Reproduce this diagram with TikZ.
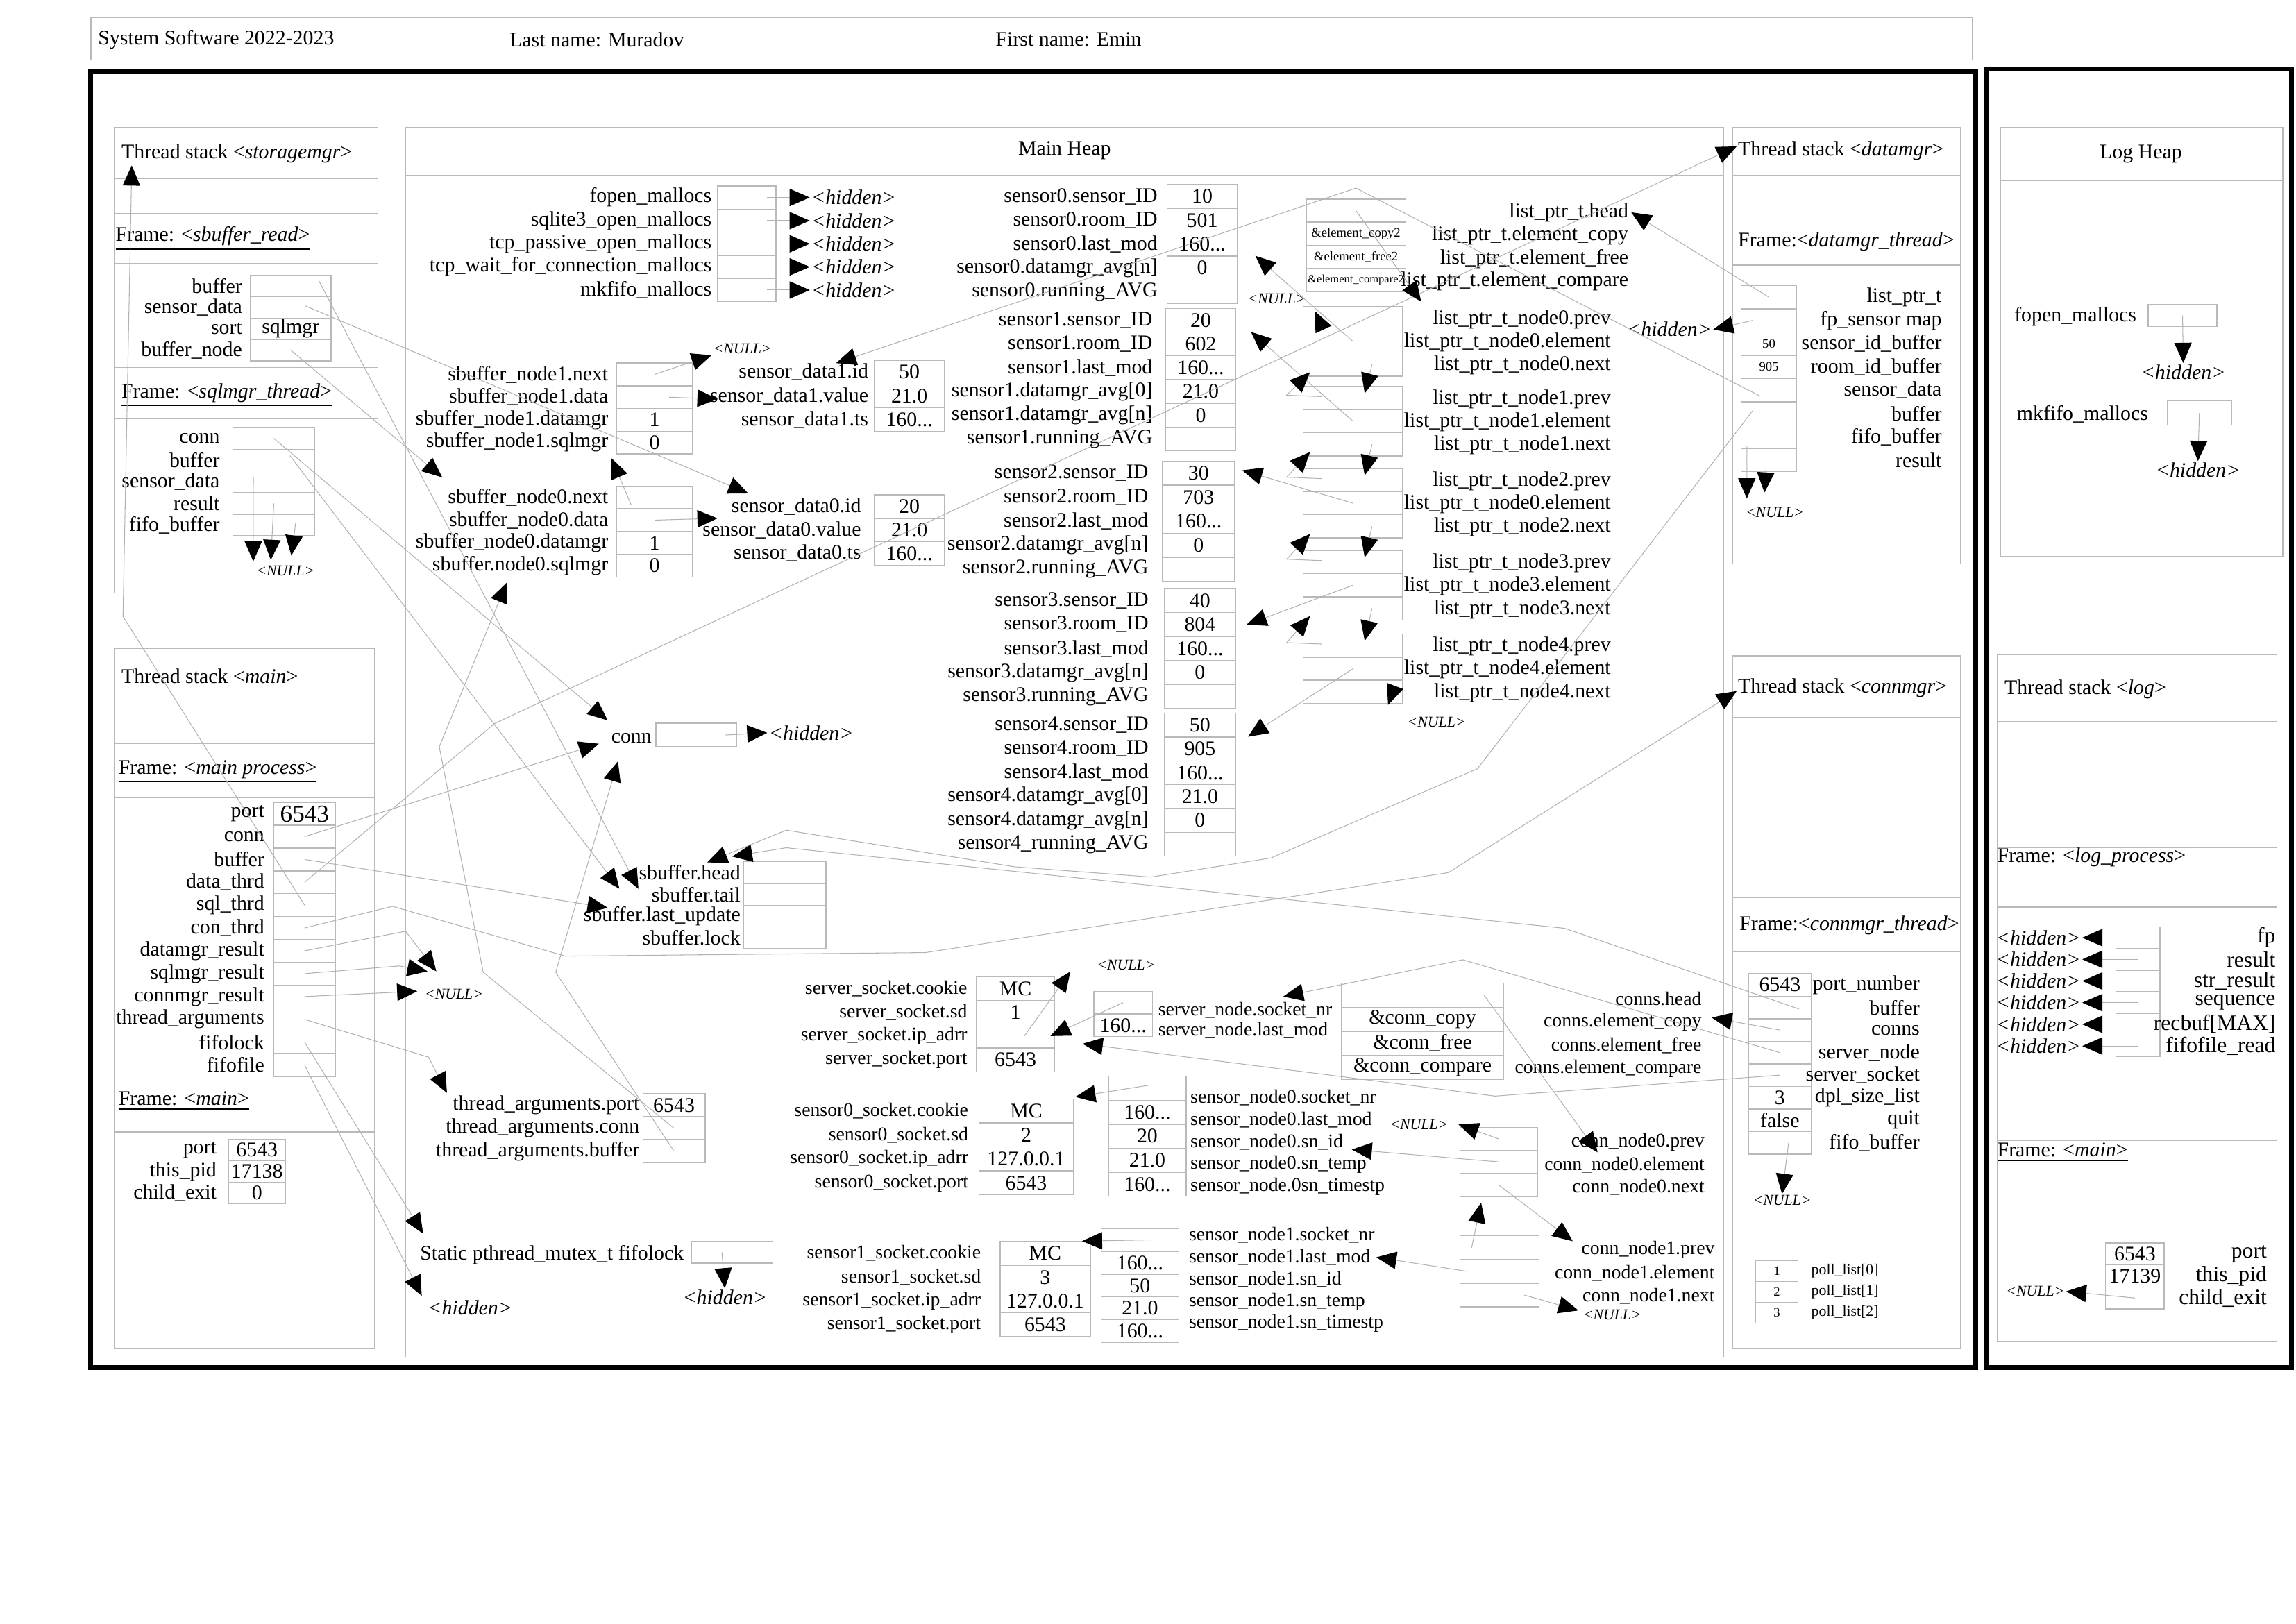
\documentclass[tikz,border=0pt]{standalone}
\usepackage{fontspec}
\setmainfont{Liberation Serif}
\usetikzlibrary{positioning, calc, arrows.meta}

\newcommand{\ovu}{0.0211cm}
\newcommand{\tdots}{...}
\newcommand{\fmain}{\fontsize{8.5}{9}\selectfont}
\newcommand{\fsock}{\fontsize{7.9}{8.5}\selectfont}
\newcommand{\fsmall}{\fontsize{6.2}{7}\selectfont}
\newcommand{\ftiny}{\fontsize{5.3}{6}\selectfont}
\newcommand{\fmicro}{\fontsize{4.7}{5}\selectfont}
\newcommand{\fbig}{\fontsize{10}{11}\selectfont}
\newcommand{\flog}{\fontsize{9}{10}\selectfont}

\begin{document}
\begin{tikzpicture}[
    x=0.0211cm, y=-0.0211cm,
    box/.style={draw=gray!55, line width=0.4pt},
    heavy/.style={draw=black, line width=2pt},
    cell/.style 2 args={draw=gray!55, line width=0.4pt, minimum width=#1*\ovu, minimum height=#2*\ovu, inner sep=0pt, font=\fmain},
    field/.style={font=\fmain, inner sep=1pt},
    hdr/.style={font=\fmain, inner sep=1pt, anchor=west},
    nul/.style={font=\fsmall\itshape, inner sep=0.5pt},
    hid/.style={font=\fmain\itshape, inner sep=0.5pt},
    ptr/.style={draw=gray!60, line width=0.3pt, -{Triangle[length=0.29cm, width=0.25cm, color=black]}}
]
    \useasboundingbox (0,0) rectangle (1568,1109);

    % Header
    \draw[box] (62,12) rectangle (1347,41);
    \node[hdr] (course) at (65,27) {System Software 2022-2023};
    \node[hdr] (lastname) at (346,27) {Last name: Muradov};
    \node[hdr] (firstname) at (678,27) {First name: Emin};

    % Process borders
    \draw[heavy] (62,49) rectangle (1349,934);
    \draw[heavy] (1357,47) rectangle (1565,934);

    % Thread stack storagemgr
    \draw[box] (78,87) rectangle (258,405);
    \foreach \yy in {122,146,180,251,286} \draw[box] (78,\yy) -- (258,\yy);
    \node[hdr] (sm-title) at (81,105) {Thread stack <\textit{storagemgr}>};
    \node[hdr] (sm-frame) at (77,163) {\underline{Frame: <\textit{sbuffer\_read}>}};
    \foreach \lbl/\val [count=\i] in {buffer/{}, sensor\_data/{}, sort/sqlmgr, buffer\_node/{}} {
        \node[cell={55}{14.6}] (sm-\i) at (198.5, {188+(\i-0.5)*14.6}) {\val};
        \node[field, anchor=east] (sm-l\i) at ([xshift=-2pt]sm-\i.west) {\lbl};
    }
    \node[hdr] (sq-frame) at (81,270) {\underline{Frame: <\textit{sqlmgr\_thread}>}};
    \foreach \lbl [count=\i] in {conn, buffer, sensor\_data, result, fifo\_buffer} {
        \node[cell={56}{14.8}] (sq-\i) at (187, {292+(\i-0.5)*14.8}) {};
        \node[field, anchor=east] (sq-l\i) at ([xshift=-4pt]sq-\i.west) {\lbl};
    }
    \node[nul] (sq-null) at (195,390) {<NULL>};

    % Thread stack main
    \draw[box] (78,443) rectangle (256,921);
    \foreach \yy in {481,508,545,743,773} \draw[box] (78,\yy) -- (256,\yy);
    \node[hdr] (mn-title) at (81,462) {Thread stack <\textit{main}>};
    \node[hdr] (mp-frame) at (79,527) {\underline{Frame: <\textit{main process}>}};
    \foreach \lbl/\val [count=\i] in {port/{\fbig 6543}, conn/{}, buffer/{}, data\_thrd/{}, sql\_thrd/{}, con\_thrd/{}, datamgr\_result/{}, sqlmgr\_result/{}, connmgr\_result/{}, thread\_arguments/{}, fifolock/{}, fifofile/{}} {
        \node[cell={42}{15.6}] (mp-\i) at (208, {548+(\i-0.5)*15.6}) {\val};
        \node[field, anchor=east] (mp-l\i) at ([xshift=-2.5pt]mp-\i.west) {\lbl};
    }
    \node[hdr] (mf-frame) at (79,752) {\underline{Frame: <\textit{main}>}};
    \foreach \lbl/\val [count=\i] in {port/6543, this\_pid/17138, child\_exit/0} {
        \node[cell={39}{14.7}] (mf-\i) at (175.5, {778+(\i-0.5)*14.7}) {\val};
        \node[field, anchor=east] (mf-l\i) at ([xshift=-3.5pt]mf-\i.west) {\lbl};
    }

    % Main heap
    \draw[box] (277,87) rectangle (1177,927);
    \draw[box] (277,120) -- (1177,120);
    \node[field] (heap-title) at (727,103) {Main Heap};

    % Mallocs
    \foreach \lbl [count=\i] in {fopen\_mallocs, sqlite3\_open\_mallocs, tcp\_passive\_open\_mallocs, tcp\_wait\_for\_connection\_mallocs, mkfifo\_mallocs} {
        \node[cell={40}{15.8}] (ml-\i) at (510, {127+(\i-0.5)*15.8}) {};
        \node[field, anchor=east] (ml-l\i) at ([xshift=-1pt]ml-\i.west) {\lbl};
        \node[hid, anchor=west] (ml-h\i) at (553, {127+(\i-0.5)*15.8}) {<hidden>};
        \draw[ptr] ($(ml-\i)+(14,0)$) -- (ml-h\i.west);
    }

    % Sbuffer nodes and sensor data
    \foreach \lbl/\val [count=\i] in {sbuffer\_node1.next/{}, sbuffer\_node1.data/{}, sbuffer\_node1.datamgr/1, sbuffer\_node1.sqlmgr/0} {
        \node[cell={52}{15.5}] (sb1-\i) at (447, {248+(\i-0.5)*15.5}) {\val};
        \node[field, anchor=east] (sb1-l\i) at ([xshift=-2pt]sb1-\i.west) {\lbl};
    }
    \node[nul] (sb1-null) at (507,238) {<NULL>};
    \foreach \lbl/\val [count=\i] in {sensor\_data1.id/50, sensor\_data1.value/21.0, sensor\_data1.ts/160\tdots} {
        \node[cell={48}{16.3}] (sd1-\i) at (621, {246+(\i-0.5)*16.3}) {\val};
        \node[field, anchor=east] (sd1-l\i) at ([xshift=-1pt]sd1-\i.west) {\lbl};
    }
    \foreach \lbl/\val [count=\i] in {sbuffer\_node0.next/{}, sbuffer\_node0.data/{}, sbuffer\_node0.datamgr/1, sbuffer.node0.sqlmgr/0} {
        \node[cell={52}{15.5}] (sb0-\i) at (447, {332+(\i-0.5)*15.5}) {\val};
        \node[field, anchor=east] (sb0-l\i) at ([xshift=-2pt]sb0-\i.west) {\lbl};
    }
    \foreach \lbl/\val [count=\i] in {sensor\_data0.id/20, sensor\_data0.value/21.0, sensor\_data0.ts/160\tdots} {
        \node[cell={48}{16}] (sd0-\i) at (621, {338+(\i-0.5)*16}) {\val};
        \node[field, anchor=east] (sd0-l\i) at ([xshift=-4pt]sd0-\i.west) {\lbl};
    }

    % Sensors
    \foreach \lbl/\val [count=\i] in {sensor\_ID/10, room\_ID/501, last\_mod/160\tdots, datamgr\_avg[n]/0, running\_AVG/{}} {
        \node[cell={48}{16.3}] (s0-\i) at (821, {126+(\i-0.5)*16.3}) {\val};
        \node[field, anchor=east] (s0-l\i) at ([xshift=-2.5pt]s0-\i.west) {sensor0.\lbl};
    }
    \foreach \lbl/\val [count=\i] in {sensor\_ID/20, room\_ID/602, last\_mod/160\tdots, datamgr\_avg[0]/21.0, datamgr\_avg[n]/0, running\_AVG/{}} {
        \node[cell={48}{16.23}] (s1-\i) at (820, {210.6+(\i-0.5)*16.23}) {\val};
        \node[field, anchor=east] (s1-l\i) at ([xshift=-4pt]s1-\i.west) {sensor1.\lbl};
    }
    \foreach \lbl/\val [count=\i] in {sensor\_ID/30, room\_ID/703, last\_mod/160\tdots, datamgr\_avg[n]/0, running\_AVG/{}} {
        \node[cell={49}{16.4}] (s2-\i) at (818.5, {315+(\i-0.5)*16.4}) {\val};
        \node[field, anchor=east] (s2-l\i) at ([xshift=-4.5pt]s2-\i.west) {sensor2.\lbl};
    }
    \foreach \lbl/\val [count=\i] in {sensor\_ID/40, room\_ID/804, last\_mod/160\tdots, datamgr\_avg[n]/0, running\_AVG/{}} {
        \node[cell={49}{16.4}] (s3-\i) at (819.5, {402+(\i-0.5)*16.4}) {\val};
        \node[field, anchor=east] (s3-l\i) at ([xshift=-5pt]s3-\i.west) {sensor3.\lbl};
    }
    \foreach \lbl/\val [count=\i] in {sensor4.sensor\_ID/50, sensor4.room\_ID/905, sensor4.last\_mod/160\tdots, sensor4.datamgr\_avg[0]/21.0, sensor4.datamgr\_avg[n]/0, sensor4\_running\_AVG/{}} {
        \node[cell={49}{16.3}] (s4-\i) at (819.5, {487+(\i-0.5)*16.3}) {\val};
        \node[field, anchor=east] (s4-l\i) at ([xshift=-5pt]s4-\i.west) {\lbl};
    }

    % Sensor list
    \foreach \val [count=\i] in {{}, {\ftiny\&element\_copy2}, {\ftiny\&element\_free2}, {\fmicro\&element\_compare2}} {
        \node[cell={68}{15.75}] (lt-\i) at (926, {136+(\i-0.5)*15.75}) {\val};
    }
    \foreach \lbl/\yy [count=\i] in {head/145, element\_copy/161, element\_free/177, element\_compare/192} {
        \node[field, anchor=east] (lt-l\i) at (1114,\yy) {list\_ptr\_t.\lbl};
    }
    \foreach \n/\tp/\m in {0/209.5/0, 1/264/1, 2/320/0, 3/376/3, 4/433/4} {
        \node[cell={68}{15.8}] (ln\n-1) at (924, {\tp+7.9}) {};
        \node[cell={68}{15.8}] (ln\n-2) at (924, {\tp+23.7}) {};
        \node[cell={68}{15.8}] (ln\n-3) at (924, {\tp+39.5}) {};
        \node[field, anchor=east] (ln\n-l1) at (1102, {\tp+8.5}) {list\_ptr\_t\_node\n.prev};
        \node[field, anchor=east] (ln\n-l2) at (1102, {\tp+24.3}) {list\_ptr\_t\_node\m.element};
        \node[field, anchor=east] (ln\n-l3) at (1102, {\tp+40.1}) {list\_ptr\_t\_node\n.next};
    }
    \node[nul] (ln-null0) at (872,204) {<NULL>};
    \node[nul] (ln-null4) at (981,493) {<NULL>};
    \node[hid] (dm-hid) at (1140,225) {<hidden>};

    % Thread stack datamgr
    \draw[box] (1183,87) rectangle (1339,385);
    \foreach \yy in {120,148,181} \draw[box] (1183,\yy) -- (1339,\yy);
    \node[hdr] (dm-title) at (1185,103) {Thread stack <\textit{datamgr}>};
    \node[hdr] (dm-frame) at (1185,165) {Frame:<\textit{datamgr\_thread}>};
    \foreach \lbl/\val [count=\i] in {list\_ptr\_t/{}, fp\_sensor map/{}, sensor\_id\_buffer/{\ftiny 50}, room\_id\_buffer/{\ftiny 905}, sensor\_data/{}, buffer/{}, fifo\_buffer/{}, result/{}} {
        \node[cell={38}{15.9}] (dm-\i) at (1208, {195+(\i-0.5)*15.9}) {\val};
        \node[field, anchor=east] (dm-l\i) at (1328, {195+(\i-0.5)*15.9}) {\lbl};
    }
    \node[nul] (dm-null) at (1212,350) {<NULL>};

    % Thread stack connmgr
    \draw[box] (1183,448) rectangle (1339,921);
    \foreach \yy in {490,613,650} \draw[box] (1183,\yy) -- (1339,\yy);
    \node[hdr] (cm-title) at (1185,470) {Thread stack <\textit{connmgr}>};
    \node[hdr] (cm-frame) at (1186,632) {Frame:<\textit{connmgr\_thread}>};
    \foreach \lbl/\val [count=\i] in {port\_number/6543, buffer/{}, conns/{}, server\_node/{}, server\_socket/{}, dpl\_size\_list/3, quit/false, fifo\_buffer/{}} {
        \node[cell={43}{15.4}] (cm-\i) at (1215.5, {665+(\i-0.5)*15.4}) {\val};
        \node[field, anchor=east] (cm-l\i) at (1313, {665+(\i-0.5)*15.4}) {\lbl};
    }
    \node[nul] (cm-null) at (1217,820) {<NULL>};
    \foreach \pidx [count=\i] in {0,1,2} {
        \node[cell={29}{14.2}, font=\ftiny] (pl-\i) at (1213.5, {861+(\i-0.5)*14.2}) {\i};
        \node[field, anchor=west, font=\fsmall] (pl-l\i) at (1235, {861+(\i-0.5)*14.2}) {poll\_list[\pidx]};
    }

    % Log heap
    \draw[box] (1366,87) rectangle (1559,380);
    \draw[box] (1366,123.5) -- (1559,123.5);
    \node[field] (lh-title) at (1462,105) {Log Heap};
    \node[field, anchor=east] (lh-l1) at (1461,216) {fopen\_mallocs};
    \node[cell={47}{15}] (lh-1) at (1490.5,215.5) {};
    \node[hid] (lh-h1) at (1491,254) {<hidden>};
    \node[field, anchor=east] (lh-l2) at (1469,283) {mkfifo\_mallocs};
    \node[cell={44}{16.5}] (lh-2) at (1502,282) {};
    \node[hid] (lh-h2) at (1501,321) {<hidden>};
    \draw[ptr] (lh-1.center) -- (lh-h1.north);
    \draw[ptr] (lh-2.center) -- (lh-h2.north);

    % Thread stack log
    \draw[box] (1364,447) rectangle (1555,916);
    \foreach \yy in {493,579,619.5,779,815.6} \draw[box] (1364,\yy) -- (1555,\yy);
    \node[hdr] (lg-title) at (1367,471) {Thread stack <\textit{log}>};
    \node[hdr] (lg-frame) at (1362,587) {\underline{Frame: <\textit{log\_process}>}};
    \foreach \lbl [count=\i] in {fp, result, str\_result, sequence, recbuf[MAX], fifofile\_read} {
        \node[cell={30}{14.8}] (lg-\i) at (1460, {633+(\i-0.5)*14.8}) {};
        \node[field, anchor=east, font=\flog] (lg-l\i) at (1556, {633+(\i-0.5)*14.8}) {\lbl};
        \node[hid, anchor=east] (lg-h\i) at (1422, {633+(\i-0.5)*14.8}) {<hidden>};
        \draw[ptr] (lg-\i.center) -- (lg-h\i.east);
    }
    \node[hdr] (lgm-frame) at (1362,787) {\underline{Frame: <\textit{main}>}};
    \foreach \lbl/\val [count=\i] in {port/6543, this\_pid/17139, child\_exit/{}} {
        \node[cell={40}{15}] (lgm-\i) at (1458, {849+(\i-0.5)*15}) {\val};
        \node[field, anchor=east, font=\flog] (lgm-l\i) at (1550, {849+(\i-0.5)*15}) {\lbl};
    }
    \node[nul, anchor=east] (lgm-null) at (1411,882) {<NULL>};
    \draw[ptr] (lgm-3.center) -- (lgm-null.east);

    % Connection, sbuffer, thread arguments, fifo lock
    \node[cell={55}{16}] (cn-1) at (475.5,502) {};
    \node[field, anchor=east] (cn-l1) at (447,504) {conn};
    \node[hid, anchor=west] (cn-h) at (524,500.5) {<hidden>};
    \draw[ptr] ($(cn-1)+(20,0)$) -- (cn-h.west);
    \foreach \lbl [count=\i] in {head, tail, last\_update, lock} {
        \node[cell={56}{14.85}] (sb-\i) at (536, {588.6+(\i-0.5)*14.85}) {};
        \node[field, anchor=east] (sb-l\i) at (sb-\i.west) {sbuffer.\lbl};
    }
    \foreach \lbl/\val [count=\i] in {port/6543, conn/{}, buffer/{}} {
        \node[cell={42.5}{15.7}] (ta-\i) at (460.3, {747+(\i-0.5)*15.7}) {\val};
        \node[field, anchor=east] (ta-l\i) at (ta-\i.west) {thread\_arguments.\lbl};
    }
    \node[field, anchor=east] (fl-l) at (469,857) {Static pthread\_mutex\_t fifolock};
    \node[cell={55.5}{14.6}] (fl-1) at (500,855.3) {};
    \node[hid] (fl-h) at (495,886) {<hidden>};
    \draw[ptr] ($(fl-1)+(-7,0)$) -- (fl-h.north);
    \node[hid] (ff-h) at (321,893) {<hidden>};
    \node[nul] (mn-null) at (310,679) {<NULL>};

    % Sockets
    \foreach \lbl/\val [count=\i] in {cookie/MC, sd/1, ip\_adrr/{}, port/6543} {
        \node[cell={53}{16.25}] (ss-\i) at (693.5, {667+(\i-0.5)*16.25}) {\val};
        \node[field, anchor=east, font=\fsock] (ss-l\i) at ([xshift=-2.5pt]ss-\i.west) {server\_socket.\lbl};
    }
    \foreach \lbl/\val [count=\i] in {socket\_nr/{}, last\_mod/160\tdots} {
        \node[cell={40}{15.5}] (sv-\i) at (767, {677+(\i-0.5)*15.5}) {\val};
        \node[field, anchor=west, font=\fsock] (sv-l\i) at (789, {676.5+\i*13.5}) {server\_node.\lbl};
    }
    \node[nul] (sv-null) at (769,659) {<NULL>};
    \foreach \lbl/\val [count=\i] in {cookie/MC, sd/2, ip\_adrr/127.0.0.1, port/6543} {
        \node[cell={64.5}{16.4}] (k0-\i) at (700.8, {750.5+(\i-0.5)*16.4}) {\val};
        \node[field, anchor=east, font=\fsock] (k0-l\i) at ([xshift=-3pt]k0-\i.west) {sensor0\_socket.\lbl};
    }
    \foreach \lbl/\val [count=\i] in {sensor\_node0.socket\_nr/{}, sensor\_node0.last\_mod/160\tdots, sensor\_node0.sn\_id/20, sensor\_node0.sn\_temp/21.0, sensor\_node.0sn\_timestp/160\tdots} {
        \node[cell={53}{16.4}] (n0-\i) at (783.5, {735+(\i-0.5)*16.4}) {\val};
        \node[field, anchor=west, font=\fsock] (n0-l\i) at (811, {734.8+\i*15.1}) {\lbl};
    }
    \foreach \lbl/\val [count=\i] in {cookie/MC, sd/3, ip\_adrr/127.0.0.1, port/6543} {
        \node[cell={61.6}{16.2}] (k1-\i) at (713.8, {848+(\i-0.5)*16.2}) {\val};
        \node[field, anchor=east, font=\fsock] (k1-l\i) at ([xshift=-6.5pt]k1-\i.west) {sensor1\_socket.\lbl};
    }
    \foreach \lbl/\val [count=\i] in {socket\_nr/{}, last\_mod/160\tdots, sn\_id/50, sn\_temp/21.0, sn\_timestp/160\tdots} {
        \node[cell={53}{15.6}] (n1-\i) at (778.5, {839+(\i-0.5)*15.6}) {\val};
        \node[field, anchor=west, font=\fsock] (n1-l\i) at (810, {828.5+\i*15.1}) {sensor\_node1.\lbl};
    }

    % Connection list
    \foreach \val [count=\i] in {{}, \&conn\_copy, \&conn\_free, \&conn\_compare} {
        \node[cell={111}{16.4}] (cs-\i) at (971.5, {671.5+(\i-0.5)*16.4}) {\val};
    }
    \foreach \lbl [count=\i] in {head, element\_copy, element\_free, element\_compare} {
        \node[field, anchor=east, font=\fsock] (cs-l\i) at (1164, {666+\i*16}) {conns.\lbl};
    }
    \foreach \lbl [count=\i] in {prev, element, next} {
        \node[cell={53}{15.7}] (c0-\i) at (1023.5, {770+(\i-0.5)*15.7}) {};
        \node[field, anchor=east, font=\fsock] (c0-l\i) at (1166, {764.5+\i*15.5}) {conn\_node0.\lbl};
        \node[cell={54}{16.2}] (c1-\i) at (1024, {844+(\i-0.5)*16.2}) {};
        \node[field, anchor=east, font=\fsock] (c1-l\i) at (1173, {838+\i*15.7}) {conn\_node1.\lbl};
    }
    \node[nul] (c0-null) at (969,768) {<NULL>};
    \node[nul] (c1-null) at (1101,898) {<NULL>};

    % Pointer targets
    \coordinate (sm-in) at (90,113);
    \coordinate (sb-in1) at (423,607);
    \coordinate (sb-in2) at (436,607);
    \coordinate (sb-in3) at (415,620);
    \coordinate (sb-in4) at (483,589);
    \coordinate (sb-in5) at (500,585);
    \coordinate (sd0-in1) at (511,337);
    \coordinate (sd0-in2) at (490,354);
    \coordinate (sd1-in1) at (490,272.5);
    \coordinate (sd1-in2) at (571,248);
    \coordinate (sb0-in) at (302,326);
    \coordinate (sb1-in) at (417.6,313);
    \coordinate (sb0q-in) at (346,398);
    \coordinate (cn-in1) at (415,492);
    \coordinate (cn-in2) at (409,508);
    \coordinate (cn-in3) at (422,520);
    \coordinate (dm-in) at (1186,100);
    \coordinate (cm-in) at (1186,472);

    % Storagemgr and sqlmgr pointers
    \draw[ptr] ($(sm-1)+(19,-4)$) -- (sb-in2);
    \draw[ptr] ($(sm-2)+(10,-1)$) -- (sd0-in1);
    \draw[ptr] (sm-4.center) -- (sb0-in);
    \draw[ptr] (sq-1.center) -- (cn-in1);
    \draw[ptr] ($(sq-2)+(11,-3)$) -- (sb-in1);
    \draw[ptr] ($(sq-3)+(-14,-3)$) -- ($(sq-null.north west)+(-1,-2)$);
    \draw[ptr] (sq-4.center) -- ($(sq-null.north west)+(11,-3)$);
    \draw[ptr] ($(sq-5)+(15,-2)$) -- ($(sq-null.north west)+(25,-6)$);

    % Main process pointers
    \draw[ptr] (mp-2.center) -- (cn-in2);
    \draw[ptr] (mp-3.center) -- (sb-in3);
    \draw[ptr] (mp-4.center) -- (338,494) -- (dm-in);
    \draw[ptr] (mp-5.center) -- (84,421) -- (sm-in);
    \draw[ptr] (mp-6.center) -- (268,619) -- (386,653) -- (632,650.6) -- (989,596) -- (cm-in);
    \draw[ptr] (mp-7.center) -- (277,636) -- ($(mn-null.north west)+(9,-11)$);
    \draw[ptr] (mp-8.center) -- (272.7,659.7) -- ($(mn-null.north west)+(3,-11)$);
    \draw[ptr] (mp-9.center) -- ($(mn-null.west)+(-4,-2)$);
    \draw[ptr] (mp-10.center) -- (292.6,722) -- ($(ta-l1.north west)+(-2,0)$);
    \draw[ptr] (mp-11.center) -- ($(fl-l.north west)+(4,-6)$);
    \draw[ptr] (mp-12.center) -- ($(ff-h.west)+(-3,-8)$);

    % Heap pointers
    \draw[ptr] (ta-2.center) -- (330,664) -- (300,510) -- (sb0q-in);
    \draw[ptr] (ta-3.center) -- (379.5,664) -- (cn-in3);
    \draw[ptr] (sb1-1.center) -- (sb1-null.south west);
    \draw[ptr] ($(sb1-2)+(10,0)$) -- (sd1-in1);
    \draw[ptr] ($(sb0-1)+(-16,5)$) -- (sb1-in);
    \draw[ptr] (sb0-2.center) -- (sd0-in2);

    % Datamgr pointers
    \draw[ptr] (dm-1.center) -- (lt-l1.east);
    \draw[ptr] ($(dm-2)+(-11,0)$) -- (dm-hid.east);
    \draw[ptr] ($(dm-5)+(-6,4)$) -- (926,128.5) -- (sd1-in2);
    \draw[ptr] ($(dm-6)+(-11,-2)$) -- (1009,525) -- (868,586) -- (786,599) -- (693,592) -- (537,567) -- (sb-in4);
    \draw[ptr] ($(dm-7)+(-15,6)$) -- ($(dm-null.north west)+(2,-5)$);
    \draw[ptr] ($(dm-8)+(-2,6)$) -- ($(dm-null.north west)+(14,-9)$);

    % Sensor list pointers
    \draw[ptr] (lt-1.center) -- ($(ln0-l1.west)+(-6,-12)$);
    \draw[ptr] ($(ln0-1.west)+(12,3)$) -- ($(ln-null0.south east)+(5,4)$);
    \draw[ptr] (ln0-2.center) -- ($(s0-3.east)+(12,8)$);
    \draw[ptr] (ln1-2.center) -- ($(s1-1.east)+(10,8)$);
    \draw[ptr] (ln2-2.center) -- ($(s2-1.east)+(5,-2)$);
    \draw[ptr] (ln3-2.center) -- ($(s3-2.east)+(7,0)$);
    \draw[ptr] (ln4-2.center) -- ($(s4-1.east)+(8,8)$);
    \foreach \n in {0,...,3} {
        \pgfmathtruncatemacro{\nn}{\n+1}
        \draw[ptr] ($(ln\n-3.center)+(13,0)$) -- ($(ln\nn-1.north)+(8,5)$);
        \draw[ptr] ($(ln\nn-1.west)+(13,-1)$) -- ($(ln\nn-1.west)+(-11,-2)$) -- ($(ln\n-3.south west)+(5,-3)$);
    }
    \draw[ptr] ($(ln4-3.center)+(28,-2)$) -- ($(ln-null4.north west)+(-12,-7)$);

    % Socket and connection pointers
    \draw[ptr] ($(ss-3)+(6,0)$) -- ($(sv-null.south west)+(-17,0)$);
    \draw[ptr] (sv-1.center) -- ($(ss-3.east)+(-3,0)$);
    \draw[ptr] (cm-5.center) -- (1021,748.6) -- ($(ss-4.east)+(19,-11)$);
    \draw[ptr] (cm-4.center) -- (999,655.5) -- ($(sv-l1.north)+(26,-2)$);
    \draw[ptr] (cm-3.center) -- ($(cs-l2.east)+(5,-3)$);
    \draw[ptr] ($(cm-2)+(13,1)$) -- (1068.5,634) -- (537,579) -- (sb-in5);
    \draw[ptr] ($(cm-8)+(6,0)$) -- (cm-null.north);
    \draw[ptr] ($(cs-1)+(42,0)$) -- ($(c0-l1.west)+(20,7)$);
    \draw[ptr] (c0-1.center) -- ($(c0-null.east)+(6,0)$);
    \draw[ptr] (c0-2.center) -- ($(n0-l3.east)+(4,5)$);
    \draw[ptr] (c0-3.center) -- ($(c1-l1.west)+(-4,-6)$);
    \draw[ptr] ($(c1-1)+(-19,0)$) -- ($(c0-3.south)+(-12,4)$);
    \draw[ptr] ($(c1-2)+(-22,0)$) -- ($(n1-l2.east)+(2,0)$);
    \draw[ptr] ($(c1-3)+(17,0)$) -- ($(c1-null.west)+(-2,-3)$);
    \draw[ptr] ($(n0-1)+(1,-2)$) -- ($(k0-1.north east)+(1,-1)$);
    \draw[ptr] ($(n1-1)+(8,0)$) -- ($(k1-1.north east)+(-6,0)$);
\end{tikzpicture}
\end{document}
